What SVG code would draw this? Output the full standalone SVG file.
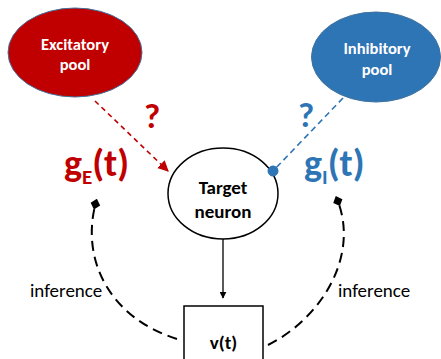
<svg xmlns="http://www.w3.org/2000/svg" width="441" height="359" viewBox="0 0 441 359">
<style>
.pool{font-family:Calibri,"Liberation Sans",Arial,sans-serif;font-weight:bold;font-size:16.5px;fill:#fff;text-anchor:middle}
.node{font-family:Calibri,"Liberation Sans",Arial,sans-serif;font-weight:bold;font-size:19px;fill:#000;text-anchor:middle}
.g{font-family:Calibri,"Liberation Sans",Arial,sans-serif;font-weight:bold;font-size:38px}
.q{font-family:Calibri,"Liberation Sans",Arial,sans-serif;font-weight:bold;font-size:35px;text-anchor:middle}
.inf{font-family:Calibri,"Liberation Sans",Arial,sans-serif;font-size:19px;fill:#000}
</style>
<defs>
<marker id="redArrow" viewBox="0 0 10 10" refX="9" refY="5" markerWidth="11" markerHeight="11" markerUnits="userSpaceOnUse" orient="auto">
<path d="M0,0 L10,5 L0,10 Z" fill="#C00000"/>
</marker>
<marker id="blackArrow" viewBox="0 0 10 10" refX="9" refY="5" markerWidth="7" markerHeight="7" markerUnits="userSpaceOnUse" orient="auto">
<path d="M0,0 L10,5 L0,10 Z" fill="#000"/>
</marker>
<marker id="blueDot" viewBox="0 0 10 10" refX="5" refY="5" markerWidth="11" markerHeight="11" markerUnits="userSpaceOnUse" orient="auto">
<circle cx="5" cy="5" r="5" fill="#2E75B6"/>
</marker>
<marker id="diamond" viewBox="0 0 10 10" refX="7" refY="5" markerWidth="11" markerHeight="11" markerUnits="userSpaceOnUse" orient="auto">
<path d="M0,5 L5,0.5 L10,5 L5,9.5 Z" fill="#000"/>
</marker>
</defs>

<g id="excitatory">
<ellipse cx="75" cy="52.5" rx="67" ry="44.5" fill="#C00000" stroke="#41719C" stroke-width="1"/>
<text class="pool" x="75" y="50">Excitatory</text>
<text class="pool" x="75" y="70">pool</text>
</g>

<g id="inhibitory">
<ellipse cx="376" cy="57" rx="64.5" ry="45" fill="#2E75B6" stroke="#41719C" stroke-width="1"/>
<text class="pool" x="377" y="54">Inhibitory</text>
<text class="pool" x="377" y="75">pool</text>
</g>

<g id="target">
<ellipse cx="223" cy="193.5" rx="55" ry="45.5" fill="#fff" stroke="#000" stroke-width="1.5"/>
<text class="node" x="223" y="194">Target</text>
<text class="node" x="223" y="218">neuron</text>
</g>

<g id="vt">
<rect x="184" y="306" width="79" height="60" fill="#fff" stroke="#000" stroke-width="1.5"/>
<text class="node" x="223.5" y="349">v(t)</text>
</g>

<g id="labels">
<text class="q" x="152" y="128" fill="#C00000">?</text>
<text class="q" x="306" y="127" fill="#2E75B6">?</text>
<text class="g" x="64" y="176" fill="#C00000">g<tspan font-size="21" dy="8">E</tspan><tspan dy="-8">(t)</tspan></text>
<text class="g" x="304" y="176" fill="#2E75B6">g<tspan font-size="21" dy="8">I</tspan><tspan dy="-8">(t)</tspan></text>
<text class="inf" x="30" y="297">inference</text>
<text class="inf" x="338" y="297">inference</text>
</g>

<g id="connectors" fill="none">
<line x1="95" y1="101" x2="168" y2="171" stroke="#C00000" stroke-width="1.6" stroke-dasharray="5,4" marker-end="url(#redArrow)"/>
<line x1="343" y1="98" x2="273" y2="171" stroke="#2E75B6" stroke-width="1.6" stroke-dasharray="6,4" marker-end="url(#blueDot)"/>
<line x1="223" y1="239" x2="223" y2="298" stroke="#000" stroke-width="1.3" marker-end="url(#blackArrow)"/>
<path d="M177,339 C110,318 80,260 96,202" stroke="#000" stroke-width="2" stroke-dasharray="10,6" marker-end="url(#diamond)"/>
<path d="M268,345 C322,318 360,255 337,199" stroke="#000" stroke-width="2" stroke-dasharray="10,6" marker-end="url(#diamond)"/>
</g>
</svg>
